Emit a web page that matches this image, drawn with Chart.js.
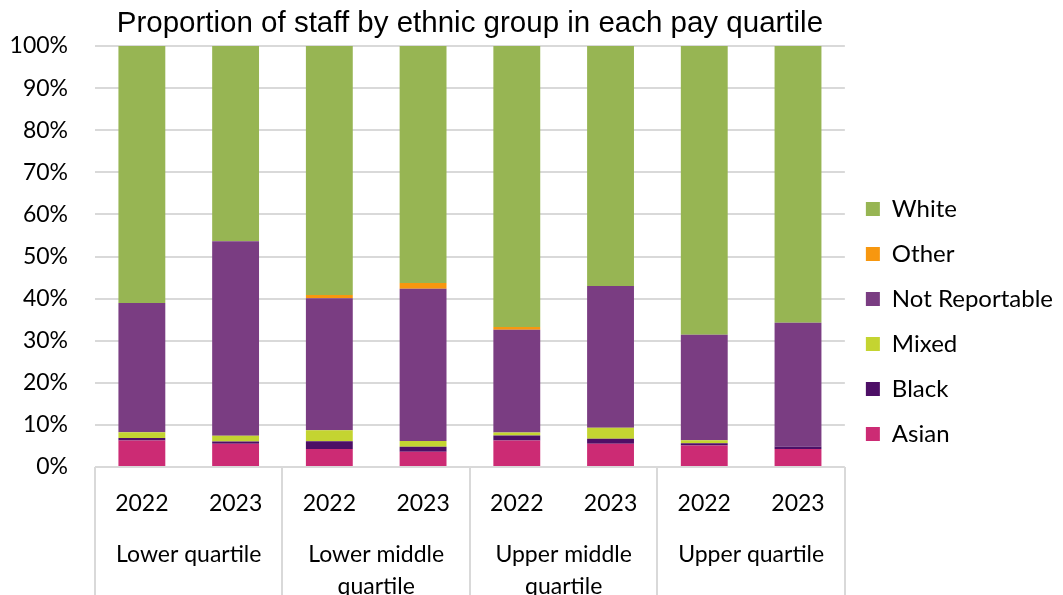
<!DOCTYPE html>
<html>
<head>
<meta charset="utf-8">
<script src="https://cdn.jsdelivr.net/npm/chart.js@4"></script>
<style>
  html, body { margin: 0; padding: 0; background: #fff; }
  #wrap { width: 1063px; height: 595px; position: relative; }
</style>
</head>
<body>
<div id="wrap"><canvas id="c" width="1063" height="595"></canvas></div>
<script>
const years = ["2022", "2023", "2022", "2023", "2022", "2023", "2022", "2023"];
const groups = ["Lower quartile", ["Lower middle", "quartile"], ["Upper middle", "quartile"], "Upper quartile"];
const asian = [6.3, 5.5, 4.3, 3.6, 6.3, 5.5, 5.1, 4.3];
const black = [0.6, 0.55, 1.8, 1.2, 1.2, 1.2, 0.55, 0.55];
const mixed = [1.35, 1.4, 2.6, 1.35, 0.7, 2.6, 0.7, 0.0];
const notReportable = [30.7, 46.2, 31.4, 36.2, 24.4, 33.7, 25.05, 29.4];
const other = [0.0, 0.0, 0.75, 1.35, 0.65, 0.0, 0.0, 0.0];
const white = [61.05, 46.35, 59.15, 56.3, 66.75, 57.0, 68.6, 65.75];
const yTicks = [0, 10, 20, 30, 40, 50, 60, 70, 80, 90, 100];

const uiFont = "Lato, 'Open Sans', sans-serif";
const grid = '#d9d9d9';

const ds = (label, data, color) => ({
  label, data, backgroundColor: color, borderWidth: 0,
  categoryPercentage: 1.0, barPercentage: 0.5, xAxisID: 'x'
});

new Chart(document.getElementById('c'), {
  type: 'bar',
  data: {
    labels: years,
    datasets: [
      ds('Asian', asian, '#cc2b74'),
      ds('Black', black, '#4d0f66'),
      ds('Mixed', mixed, '#c4d431'),
      ds('Not Reportable', notReportable, '#7a3d82'),
      ds('Other', other, '#f7970f'),
      ds('White', white, '#97b553')
    ]
  },
  options: {
    responsive: false,
    animation: false,
    devicePixelRatio: 1,
    layout: { padding: { left: 0, right: 0, top: 0, bottom: 0 } },
    plugins: {
      title: {
        display: true,
        fullSize: false,
        text: 'Proportion of staff by ethnic group in each pay quartile',
        color: '#000',
        font: { family: "'Liberation Sans', Arial, sans-serif", size: 29.5, weight: 'normal', lineHeight: 1.2 },
        padding: { top: 6, bottom: 4.6 }
      },
      legend: {
        position: 'right',
        align: 'end',
        fullSize: false,
        reverse: true,
        labels: {
          color: '#000',
          font: { family: uiFont, size: 24, lineHeight: 1 },
          boxWidth: 14, boxHeight: 14,
          padding: 21
        }
      },
      tooltip: { enabled: false }
    },
    scales: {
      x: {
        stacked: true,
        position: 'bottom',
        afterFit: (s) => { s.height = 55; },
        grid: {
          offset: true,
          drawOnChartArea: false,
          tickLength: 55,
          color: (ctx) => ((ctx.index === undefined || ctx.index % 2 === 0) ? grid : 'rgba(0,0,0,0)'),
          lineWidth: 2
        },
        border: { display: false },
        ticks: { color: '#000', font: { family: uiFont, size: 23, lineHeight: 1.2 }, padding: -32, maxRotation: 0, autoSkip: false }
      },
      x2: {
        type: 'category',
        labels: groups,
        position: 'bottom',
        offset: true,
        afterFit: (s) => { s.height = 73; },
        grid: {
          offset: true,
          drawOnChartArea: false,
          tickLength: 73,
          color: grid,
          lineWidth: 2
        },
        border: { display: false },
        ticks: { color: '#000', font: { family: uiFont, size: 23, lineHeight: 1.37 }, padding: -56, maxRotation: 0, autoSkip: false }
      },
      y: {
        stacked: true,
        min: 0, max: 100,
        afterFit: (s) => { s.width = 95; },
        afterBuildTicks: (axis) => { axis.ticks = yTicks.map(v => ({ value: v })); },
        grid: { color: grid, lineWidth: 2, drawTicks: false },
        border: { display: false },
        ticks: {
          color: '#000',
          font: { family: uiFont, size: 23 },
          padding: 27,
          callback: (v) => v + '%'
        }
      }
    }
  }
});
</script>
</body>
</html>
